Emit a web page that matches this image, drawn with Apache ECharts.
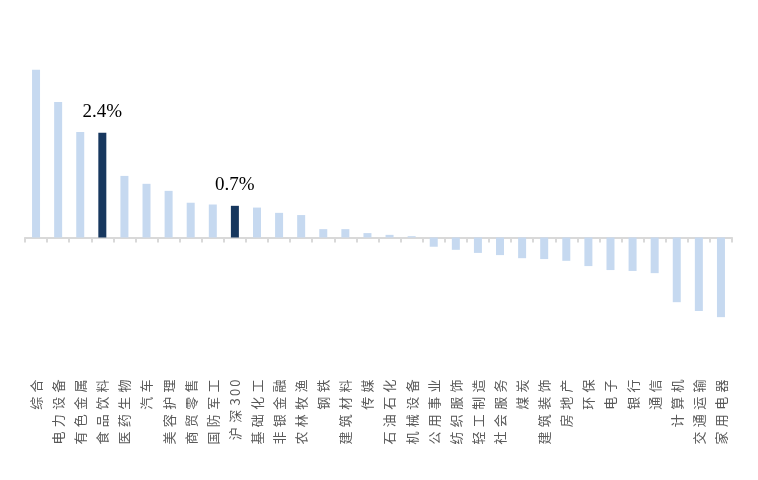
<!DOCTYPE html>
<html><head><meta charset="utf-8">
<script src="https://cdn.jsdelivr.net/npm/echarts@6/dist/echarts.min.js"></script>
<style>html,body{margin:0;padding:0;background:#fff}#c{width:758px;height:480px}</style>
</head><body><div id="c"></div>
<script>
const categories = ['综合','电力设备','有色金属','食品饮料','医药生物','汽车','美容护理','商贸零售','国防军工','沪深300','基础化工','非银金融','农林牧渔','钢铁','建筑材料','传媒','石油石化','机械设备','公用事业','纺织服饰','轻工制造','社会服务','煤炭','建筑装饰','房地产','环保','电子','银行','通信','计算机','交通运输','家用电器'];
const values = [3.81,3.08,2.40,2.38,1.40,1.22,1.06,0.79,0.75,0.72,0.68,0.56,0.51,0.19,0.19,0.10,0.06,0.03,-0.21,-0.28,-0.35,-0.40,-0.47,-0.49,-0.53,-0.65,-0.74,-0.76,-0.81,-1.47,-1.67,-1.81];
const highlighted = ['食品饮料','沪深300'];
const lightColor = '#c6d9f0';
const darkColor = '#17375e';

const data = values.map((v, i) => {
  const hi = highlighted.includes(categories[i]);
  return {
    value: v,
    itemStyle: { color: hi ? darkColor : lightColor },
    label: {
      show: hi, position: 'top', distance: 11,
      formatter: p => p.value.toFixed(1) + '%',
      fontFamily: '"Liberation Serif","Times New Roman",serif',
      fontSize: 19, color: '#000'
    }
  };
});

function spaced(v) {
  const chars = Array.from(v);
  let out = '';
  for (let i = 0; i < chars.length; i++) {
    out += chars[i];
    if (i < chars.length - 1) {
      const bothDigits = /\d/.test(chars[i]) && /\d/.test(chars[i + 1]);
      out += bothDigits ? '\u2006' : '\u2004';
    }
  }
  return out;
}

const chart = echarts.init(document.getElementById('c'), null, {renderer: 'canvas'});
chart.setOption({
  animation: false,
  grid: { left: 25, right: 26, top: 61.5, bottom: 154.5, containLabel: false, outerBoundsMode: 'none' },
  xAxis: {
    type: 'category', data: categories, boundaryGap: true,
    axisLine: { show: true, onZero: true, lineStyle: { color: '#d9d9d9', width: 2 } },
    axisTick: { show: true, alignWithLabel: false, length: 5, lineStyle: { color: '#d9d9d9', width: 2 } },
    axisLabel: {
      interval: 0, rotate: 90, margin: 54,
      formatter: spaced,
      fontFamily: '"Noto Sans CJK SC",sans-serif', fontSize: 13, color: '#595959'
    }
  },
  yAxis: {
    type: 'value', min: -2, max: 4, show: false,
    splitLine: { show: false }
  },
  series: [{
    type: 'bar', data: data, barWidth: 8
  }]
});
</script></body></html>
